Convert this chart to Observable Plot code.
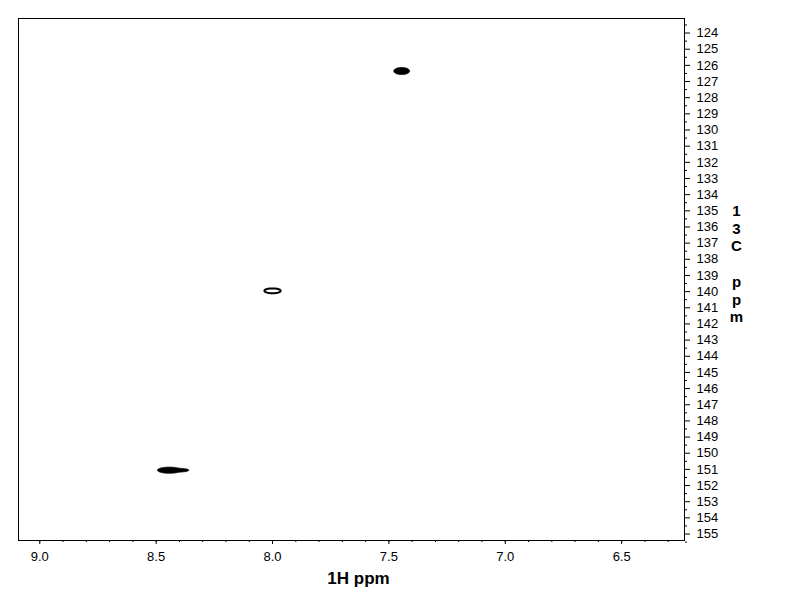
<!DOCTYPE html>
<html>
<head>
<meta charset="utf-8">
<script src="https://cdn.jsdelivr.net/npm/d3@7"></script>
<script src="https://cdn.jsdelivr.net/npm/@observablehq/plot@0.6"></script>
<style>
  html, body { margin: 0; padding: 0; background: #fff; }
  #chart { width: 792px; height: 612px; }
</style>
</head>
<body>
<div id="chart"></div>
<script>
// Axis extents (ppm)
const xDomain = [9.0914, 6.23];   // 1H ppm, reversed
const yDomain = [123.1, 155.4];   // 13C ppm, increasing downward

// Tick values / labels
const xMajorTicks = [9.0, 8.5, 8.0, 7.5, 7.0, 6.5];
const xMinorTicks = [9.0, 8.9, 8.8, 8.7, 8.6, 8.5, 8.4, 8.3, 8.2, 8.1, 8.0, 7.9, 7.8, 7.7, 7.6,
                     7.5, 7.4, 7.3, 7.2, 7.1, 7.0, 6.9, 6.8, 6.7, 6.6, 6.5, 6.4, 6.3];
const yMajorTicks = [124, 125, 126, 127, 128, 129, 130, 131, 132, 133, 134, 135, 136, 137, 138, 139,
                     140, 141, 142, 143, 144, 145, 146, 147, 148, 149, 150, 151, 152, 153, 154, 155];
const yMinorTicks = [123.5, 124.5, 125.5, 126.5, 127.5, 128.5, 129.5, 130.5, 131.5, 132.5, 133.5,
                     134.5, 135.5, 136.5, 137.5, 138.5, 139.5, 140.5, 141.5, 142.5, 143.5, 144.5,
                     145.5, 146.5, 147.5, 148.5, 149.5, 150.5, 151.5, 152.5, 153.5, 154.5, 155.5];

// Cross peaks (component centres and half-widths in ppm)
const peakH      = [7.445, 8.000, 8.443, 8.383];
const peakC      = [126.35, 139.95, 151.05, 151.05];
const peakHalfH  = [0.034, 0.035, 0.0515, 0.021];
const peakHalfC  = [0.22, 0.15, 0.19, 0.075];
const peakStyle  = ["filled", "ring", "filled", "filled"];

const xLabel = "1H ppm";
const yLabelChars = ["1", "3", "C", "", "p", "p", "m"];

function intensity(style) {
  return (x, y) => {
    let s = 0;
    for (let i = 0; i < peakH.length; i++) {
      if (peakStyle[i] !== style) continue;
      const dx = (x - peakH[i]) / peakHalfH[i];
      const dy = (y - peakC[i]) / peakHalfC[i];
      s += Math.exp(-(dx * dx + dy * dy));
    }
    return s;
  };
}
const level = Math.exp(-1);
const font = "'Liberation Sans', Arial, Helvetica, sans-serif";
const bounds = {x1: xDomain[0], x2: xDomain[1], y1: yDomain[0], y2: yDomain[1]};

try {
  const chart = Plot.plot({
    width: 792,
    height: 612,
    marginTop: 18,
    marginRight: 108,
    marginBottom: 72,
    marginLeft: 18,
    style: {fontFamily: font, fontSize: "13px", background: "#fff", color: "#000"},
    x: {domain: xDomain},
    y: {domain: yDomain, reverse: true},
    marks: [
      Plot.frame({stroke: "black", strokeWidth: 1}),
      Plot.axisX({anchor: "bottom", ticks: xMinorTicks, tickSize: 2, tickFormat: () => "", label: null}),
      Plot.axisX({anchor: "bottom", ticks: xMajorTicks, tickSize: 4, tickPadding: 7,
                  tickFormat: d3.format(".1f"), label: null, fontSize: 13}),
      Plot.axisY({anchor: "right", ticks: yMinorTicks, tickSize: 2, tickFormat: () => "", label: null}),
      Plot.axisY({anchor: "right", ticks: yMajorTicks, tickSize: 5, tickPadding: 7,
                  tickFormat: d3.format("d"), label: null, fontSize: 13}),
      Plot.contour({value: intensity("filled"), ...bounds, pixelSize: 0.5, thresholds: [level],
                    fill: "black", stroke: "black", strokeWidth: 0.8}),
      Plot.contour({value: intensity("ring"), ...bounds, pixelSize: 0.5, thresholds: [level],
                    fill: "none", stroke: "black", strokeWidth: 2}),
      Plot.text([xLabel], {frameAnchor: "bottom", dx: 7, dy: 38, lineAnchor: "middle",
                           fontWeight: "bold", fontSize: 17, text: d => d}),
      Plot.text([yLabelChars.join("\n")], {frameAnchor: "right", dx: 52, dy: -16, lineAnchor: "middle",
                           textAnchor: "middle", lineHeight: 1.18, fontWeight: "bold", fontSize: 15, text: d => d})
    ]
  });
  document.getElementById("chart").appendChild(chart);
} catch (e) {
  const pre = document.createElement("pre");
  pre.textContent = (Plot.version || "") + "\n" + e.stack;
  document.getElementById("chart").appendChild(pre);
}
</script>
</body>
</html>
